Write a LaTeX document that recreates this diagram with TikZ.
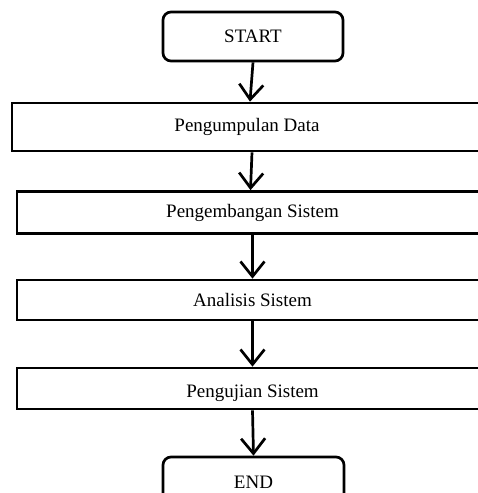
\documentclass[tikz,border=0pt]{standalone}
\usepackage{fontspec}
\setmainfont{Liberation Serif}
\usetikzlibrary{arrows.meta}
\begin{document}
\begin{tikzpicture}[x=1pt,y=-1pt,
  every node/.style={font=\fontsize{19}{23}\selectfont},
  box/.style={draw, line width=2.7pt, minimum width=471pt, inner sep=0pt},
  term/.style={draw, line width=2.7pt, rounded corners=8pt, minimum width=180pt, minimum height=49pt, inner sep=0pt},
  flow/.style={line width=2.7pt, -{Straight Barb[length=15pt,width=24pt,line width=2.7pt]}}]
\useasboundingbox (0,0) rectangle (478,493);
\clip (0,0) rectangle (478,493);
\fill[white] (0,0) rectangle (478,493);
\node[term] (start) at (253,36.5) {START};
\node[box, minimum width=470pt, minimum height=48pt] (b1) at (247,127) {Pengumpulan Data};
\node[box, minimum height=42pt] (b2) at (252.5,212.5) {Pengembangan Sistem};
\node[box, minimum height=40pt] (b3) at (252.5,300) {Analisis Sistem};
\node[box, minimum height=41pt] (b4) at (252.5,388.5) {\smash{\raisebox{-8.5pt}{Pengujian Sistem}}};
\node[term, minimum width=181pt, minimum height=50pt] (end) at (253.5,482) {END};
\draw[flow] (start.south) -- ([xshift=3pt]b1.north);
\draw[flow] ([xshift=5pt]b1.south) -- ([xshift=-2pt]b2.north);
\draw[flow] (b2.south) -- (b3.north);
\draw[flow] (b3.south) -- (b4.north);
\draw[flow] (b4.south) -- (end.north);
\end{tikzpicture}
\end{document}
